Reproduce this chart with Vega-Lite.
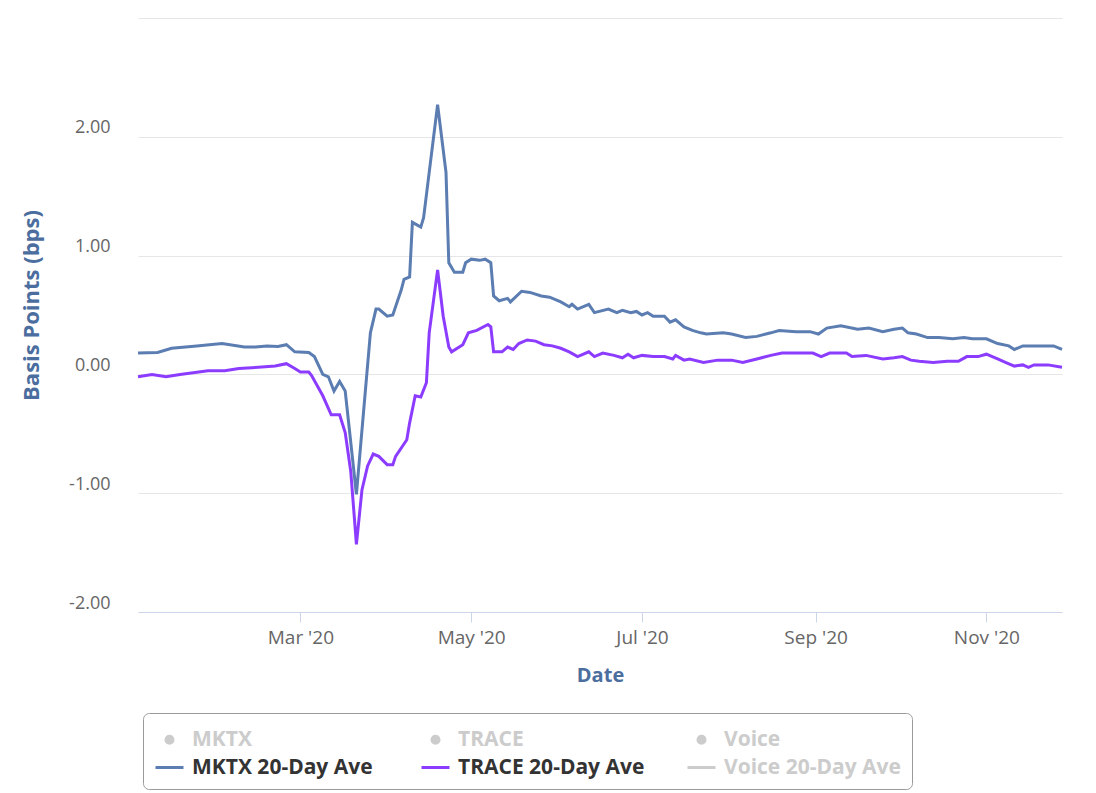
{
  "$schema": "https://vega.github.io/schema/vega-lite/v6.json",
  "width": 924,
  "height": 594,
  "autosize": {"type": "none"},
  "padding": {"left": 138, "top": 18, "right": 34, "bottom": 181},
  "background": "#ffffff",
  "config": {"view": {"stroke": null}, "font": "Open Sans"},
  "data": {"values": [
    {"date": "2020-01-03", "series": "MKTX 20-Day Ave", "value": 0.18},
    {"date": "2020-01-10", "series": "MKTX 20-Day Ave", "value": 0.185},
    {"date": "2020-01-15", "series": "MKTX 20-Day Ave", "value": 0.22},
    {"date": "2020-01-24", "series": "MKTX 20-Day Ave", "value": 0.24},
    {"date": "2020-02-02", "series": "MKTX 20-Day Ave", "value": 0.26},
    {"date": "2020-02-10", "series": "MKTX 20-Day Ave", "value": 0.23},
    {"date": "2020-02-14", "series": "MKTX 20-Day Ave", "value": 0.23},
    {"date": "2020-02-18", "series": "MKTX 20-Day Ave", "value": 0.24},
    {"date": "2020-02-22", "series": "MKTX 20-Day Ave", "value": 0.235},
    {"date": "2020-02-25", "series": "MKTX 20-Day Ave", "value": 0.25},
    {"date": "2020-02-28", "series": "MKTX 20-Day Ave", "value": 0.19},
    {"date": "2020-03-04", "series": "MKTX 20-Day Ave", "value": 0.185},
    {"date": "2020-03-06", "series": "MKTX 20-Day Ave", "value": 0.15},
    {"date": "2020-03-09", "series": "MKTX 20-Day Ave", "value": 0.0},
    {"date": "2020-03-11", "series": "MKTX 20-Day Ave", "value": -0.02},
    {"date": "2020-03-13", "series": "MKTX 20-Day Ave", "value": -0.14},
    {"date": "2020-03-15", "series": "MKTX 20-Day Ave", "value": -0.06},
    {"date": "2020-03-17", "series": "MKTX 20-Day Ave", "value": -0.14},
    {"date": "2020-03-21", "series": "MKTX 20-Day Ave", "value": -1.01},
    {"date": "2020-03-26", "series": "MKTX 20-Day Ave", "value": 0.35},
    {"date": "2020-03-28", "series": "MKTX 20-Day Ave", "value": 0.55},
    {"date": "2020-03-29", "series": "MKTX 20-Day Ave", "value": 0.55},
    {"date": "2020-04-01", "series": "MKTX 20-Day Ave", "value": 0.49},
    {"date": "2020-04-03", "series": "MKTX 20-Day Ave", "value": 0.50},
    {"date": "2020-04-06", "series": "MKTX 20-Day Ave", "value": 0.71},
    {"date": "2020-04-07", "series": "MKTX 20-Day Ave", "value": 0.80},
    {"date": "2020-04-09", "series": "MKTX 20-Day Ave", "value": 0.82},
    {"date": "2020-04-10", "series": "MKTX 20-Day Ave", "value": 1.28},
    {"date": "2020-04-13", "series": "MKTX 20-Day Ave", "value": 1.24},
    {"date": "2020-04-14", "series": "MKTX 20-Day Ave", "value": 1.32},
    {"date": "2020-04-16", "series": "MKTX 20-Day Ave", "value": 1.70},
    {"date": "2020-04-19", "series": "MKTX 20-Day Ave", "value": 2.27},
    {"date": "2020-04-22", "series": "MKTX 20-Day Ave", "value": 1.70},
    {"date": "2020-04-23", "series": "MKTX 20-Day Ave", "value": 0.94},
    {"date": "2020-04-25", "series": "MKTX 20-Day Ave", "value": 0.86},
    {"date": "2020-04-28", "series": "MKTX 20-Day Ave", "value": 0.86},
    {"date": "2020-04-29", "series": "MKTX 20-Day Ave", "value": 0.94},
    {"date": "2020-05-01", "series": "MKTX 20-Day Ave", "value": 0.97},
    {"date": "2020-05-04", "series": "MKTX 20-Day Ave", "value": 0.96},
    {"date": "2020-05-06", "series": "MKTX 20-Day Ave", "value": 0.97},
    {"date": "2020-05-08", "series": "MKTX 20-Day Ave", "value": 0.94},
    {"date": "2020-05-09", "series": "MKTX 20-Day Ave", "value": 0.66},
    {"date": "2020-05-11", "series": "MKTX 20-Day Ave", "value": 0.62},
    {"date": "2020-05-14", "series": "MKTX 20-Day Ave", "value": 0.64},
    {"date": "2020-05-15", "series": "MKTX 20-Day Ave", "value": 0.61},
    {"date": "2020-05-19", "series": "MKTX 20-Day Ave", "value": 0.70},
    {"date": "2020-05-22", "series": "MKTX 20-Day Ave", "value": 0.69},
    {"date": "2020-05-26", "series": "MKTX 20-Day Ave", "value": 0.66},
    {"date": "2020-05-29", "series": "MKTX 20-Day Ave", "value": 0.65},
    {"date": "2020-06-02", "series": "MKTX 20-Day Ave", "value": 0.61},
    {"date": "2020-06-05", "series": "MKTX 20-Day Ave", "value": 0.57},
    {"date": "2020-06-06", "series": "MKTX 20-Day Ave", "value": 0.59},
    {"date": "2020-06-08", "series": "MKTX 20-Day Ave", "value": 0.55},
    {"date": "2020-06-12", "series": "MKTX 20-Day Ave", "value": 0.59},
    {"date": "2020-06-14", "series": "MKTX 20-Day Ave", "value": 0.52},
    {"date": "2020-06-19", "series": "MKTX 20-Day Ave", "value": 0.55},
    {"date": "2020-06-22", "series": "MKTX 20-Day Ave", "value": 0.52},
    {"date": "2020-06-24", "series": "MKTX 20-Day Ave", "value": 0.54},
    {"date": "2020-06-27", "series": "MKTX 20-Day Ave", "value": 0.52},
    {"date": "2020-06-29", "series": "MKTX 20-Day Ave", "value": 0.53},
    {"date": "2020-07-01", "series": "MKTX 20-Day Ave", "value": 0.50},
    {"date": "2020-07-03", "series": "MKTX 20-Day Ave", "value": 0.52},
    {"date": "2020-07-05", "series": "MKTX 20-Day Ave", "value": 0.49},
    {"date": "2020-07-09", "series": "MKTX 20-Day Ave", "value": 0.49},
    {"date": "2020-07-11", "series": "MKTX 20-Day Ave", "value": 0.44},
    {"date": "2020-07-13", "series": "MKTX 20-Day Ave", "value": 0.46},
    {"date": "2020-07-16", "series": "MKTX 20-Day Ave", "value": 0.40},
    {"date": "2020-07-19", "series": "MKTX 20-Day Ave", "value": 0.37},
    {"date": "2020-07-22", "series": "MKTX 20-Day Ave", "value": 0.35},
    {"date": "2020-07-24", "series": "MKTX 20-Day Ave", "value": 0.34},
    {"date": "2020-07-30", "series": "MKTX 20-Day Ave", "value": 0.35},
    {"date": "2020-08-02", "series": "MKTX 20-Day Ave", "value": 0.34},
    {"date": "2020-08-07", "series": "MKTX 20-Day Ave", "value": 0.31},
    {"date": "2020-08-11", "series": "MKTX 20-Day Ave", "value": 0.32},
    {"date": "2020-08-16", "series": "MKTX 20-Day Ave", "value": 0.35},
    {"date": "2020-08-19", "series": "MKTX 20-Day Ave", "value": 0.37},
    {"date": "2020-08-25", "series": "MKTX 20-Day Ave", "value": 0.36},
    {"date": "2020-08-30", "series": "MKTX 20-Day Ave", "value": 0.36},
    {"date": "2020-09-02", "series": "MKTX 20-Day Ave", "value": 0.34},
    {"date": "2020-09-05", "series": "MKTX 20-Day Ave", "value": 0.39},
    {"date": "2020-09-10", "series": "MKTX 20-Day Ave", "value": 0.41},
    {"date": "2020-09-16", "series": "MKTX 20-Day Ave", "value": 0.38},
    {"date": "2020-09-20", "series": "MKTX 20-Day Ave", "value": 0.39},
    {"date": "2020-09-25", "series": "MKTX 20-Day Ave", "value": 0.36},
    {"date": "2020-09-29", "series": "MKTX 20-Day Ave", "value": 0.38},
    {"date": "2020-10-02", "series": "MKTX 20-Day Ave", "value": 0.39},
    {"date": "2020-10-04", "series": "MKTX 20-Day Ave", "value": 0.35},
    {"date": "2020-10-07", "series": "MKTX 20-Day Ave", "value": 0.34},
    {"date": "2020-10-11", "series": "MKTX 20-Day Ave", "value": 0.31},
    {"date": "2020-10-15", "series": "MKTX 20-Day Ave", "value": 0.31},
    {"date": "2020-10-20", "series": "MKTX 20-Day Ave", "value": 0.30},
    {"date": "2020-10-24", "series": "MKTX 20-Day Ave", "value": 0.31},
    {"date": "2020-10-27", "series": "MKTX 20-Day Ave", "value": 0.30},
    {"date": "2020-11-01", "series": "MKTX 20-Day Ave", "value": 0.30},
    {"date": "2020-11-05", "series": "MKTX 20-Day Ave", "value": 0.26},
    {"date": "2020-11-09", "series": "MKTX 20-Day Ave", "value": 0.24},
    {"date": "2020-11-11", "series": "MKTX 20-Day Ave", "value": 0.21},
    {"date": "2020-11-14", "series": "MKTX 20-Day Ave", "value": 0.24},
    {"date": "2020-11-18", "series": "MKTX 20-Day Ave", "value": 0.24},
    {"date": "2020-11-21", "series": "MKTX 20-Day Ave", "value": 0.24},
    {"date": "2020-11-25", "series": "MKTX 20-Day Ave", "value": 0.24},
    {"date": "2020-11-28", "series": "MKTX 20-Day Ave", "value": 0.21},
    {"date": "2020-01-03", "series": "TRACE 20-Day Ave", "value": -0.02},
    {"date": "2020-01-08", "series": "TRACE 20-Day Ave", "value": 0.0},
    {"date": "2020-01-13", "series": "TRACE 20-Day Ave", "value": -0.02},
    {"date": "2020-01-18", "series": "TRACE 20-Day Ave", "value": 0.0},
    {"date": "2020-01-28", "series": "TRACE 20-Day Ave", "value": 0.03},
    {"date": "2020-02-03", "series": "TRACE 20-Day Ave", "value": 0.03},
    {"date": "2020-02-08", "series": "TRACE 20-Day Ave", "value": 0.05},
    {"date": "2020-02-15", "series": "TRACE 20-Day Ave", "value": 0.06},
    {"date": "2020-02-21", "series": "TRACE 20-Day Ave", "value": 0.07},
    {"date": "2020-02-25", "series": "TRACE 20-Day Ave", "value": 0.09},
    {"date": "2020-02-28", "series": "TRACE 20-Day Ave", "value": 0.05},
    {"date": "2020-03-01", "series": "TRACE 20-Day Ave", "value": 0.02},
    {"date": "2020-03-04", "series": "TRACE 20-Day Ave", "value": 0.02},
    {"date": "2020-03-05", "series": "TRACE 20-Day Ave", "value": -0.01},
    {"date": "2020-03-09", "series": "TRACE 20-Day Ave", "value": -0.18},
    {"date": "2020-03-12", "series": "TRACE 20-Day Ave", "value": -0.34},
    {"date": "2020-03-15", "series": "TRACE 20-Day Ave", "value": -0.34},
    {"date": "2020-03-17", "series": "TRACE 20-Day Ave", "value": -0.49},
    {"date": "2020-03-19", "series": "TRACE 20-Day Ave", "value": -0.82},
    {"date": "2020-03-21", "series": "TRACE 20-Day Ave", "value": -1.43},
    {"date": "2020-03-23", "series": "TRACE 20-Day Ave", "value": -0.97},
    {"date": "2020-03-25", "series": "TRACE 20-Day Ave", "value": -0.77},
    {"date": "2020-03-27", "series": "TRACE 20-Day Ave", "value": -0.67},
    {"date": "2020-03-29", "series": "TRACE 20-Day Ave", "value": -0.69},
    {"date": "2020-04-01", "series": "TRACE 20-Day Ave", "value": -0.76},
    {"date": "2020-04-03", "series": "TRACE 20-Day Ave", "value": -0.76},
    {"date": "2020-04-04", "series": "TRACE 20-Day Ave", "value": -0.69},
    {"date": "2020-04-08", "series": "TRACE 20-Day Ave", "value": -0.55},
    {"date": "2020-04-09", "series": "TRACE 20-Day Ave", "value": -0.41},
    {"date": "2020-04-11", "series": "TRACE 20-Day Ave", "value": -0.18},
    {"date": "2020-04-13", "series": "TRACE 20-Day Ave", "value": -0.19},
    {"date": "2020-04-15", "series": "TRACE 20-Day Ave", "value": -0.07},
    {"date": "2020-04-16", "series": "TRACE 20-Day Ave", "value": 0.35},
    {"date": "2020-04-19", "series": "TRACE 20-Day Ave", "value": 0.88},
    {"date": "2020-04-21", "series": "TRACE 20-Day Ave", "value": 0.49},
    {"date": "2020-04-23", "series": "TRACE 20-Day Ave", "value": 0.23},
    {"date": "2020-04-24", "series": "TRACE 20-Day Ave", "value": 0.19},
    {"date": "2020-04-28", "series": "TRACE 20-Day Ave", "value": 0.25},
    {"date": "2020-04-30", "series": "TRACE 20-Day Ave", "value": 0.35},
    {"date": "2020-05-03", "series": "TRACE 20-Day Ave", "value": 0.37},
    {"date": "2020-05-07", "series": "TRACE 20-Day Ave", "value": 0.42},
    {"date": "2020-05-08", "series": "TRACE 20-Day Ave", "value": 0.40},
    {"date": "2020-05-09", "series": "TRACE 20-Day Ave", "value": 0.19},
    {"date": "2020-05-12", "series": "TRACE 20-Day Ave", "value": 0.19},
    {"date": "2020-05-14", "series": "TRACE 20-Day Ave", "value": 0.23},
    {"date": "2020-05-16", "series": "TRACE 20-Day Ave", "value": 0.21},
    {"date": "2020-05-18", "series": "TRACE 20-Day Ave", "value": 0.26},
    {"date": "2020-05-21", "series": "TRACE 20-Day Ave", "value": 0.29},
    {"date": "2020-05-24", "series": "TRACE 20-Day Ave", "value": 0.28},
    {"date": "2020-05-27", "series": "TRACE 20-Day Ave", "value": 0.25},
    {"date": "2020-05-30", "series": "TRACE 20-Day Ave", "value": 0.24},
    {"date": "2020-06-02", "series": "TRACE 20-Day Ave", "value": 0.22},
    {"date": "2020-06-05", "series": "TRACE 20-Day Ave", "value": 0.19},
    {"date": "2020-06-08", "series": "TRACE 20-Day Ave", "value": 0.15},
    {"date": "2020-06-12", "series": "TRACE 20-Day Ave", "value": 0.19},
    {"date": "2020-06-14", "series": "TRACE 20-Day Ave", "value": 0.15},
    {"date": "2020-06-17", "series": "TRACE 20-Day Ave", "value": 0.18},
    {"date": "2020-06-21", "series": "TRACE 20-Day Ave", "value": 0.16},
    {"date": "2020-06-24", "series": "TRACE 20-Day Ave", "value": 0.14},
    {"date": "2020-06-26", "series": "TRACE 20-Day Ave", "value": 0.17},
    {"date": "2020-06-28", "series": "TRACE 20-Day Ave", "value": 0.14},
    {"date": "2020-07-01", "series": "TRACE 20-Day Ave", "value": 0.16},
    {"date": "2020-07-05", "series": "TRACE 20-Day Ave", "value": 0.15},
    {"date": "2020-07-09", "series": "TRACE 20-Day Ave", "value": 0.15},
    {"date": "2020-07-12", "series": "TRACE 20-Day Ave", "value": 0.13},
    {"date": "2020-07-13", "series": "TRACE 20-Day Ave", "value": 0.16},
    {"date": "2020-07-16", "series": "TRACE 20-Day Ave", "value": 0.12},
    {"date": "2020-07-18", "series": "TRACE 20-Day Ave", "value": 0.13},
    {"date": "2020-07-23", "series": "TRACE 20-Day Ave", "value": 0.10},
    {"date": "2020-07-28", "series": "TRACE 20-Day Ave", "value": 0.12},
    {"date": "2020-08-02", "series": "TRACE 20-Day Ave", "value": 0.12},
    {"date": "2020-08-06", "series": "TRACE 20-Day Ave", "value": 0.10},
    {"date": "2020-08-11", "series": "TRACE 20-Day Ave", "value": 0.13},
    {"date": "2020-08-16", "series": "TRACE 20-Day Ave", "value": 0.16},
    {"date": "2020-08-20", "series": "TRACE 20-Day Ave", "value": 0.18},
    {"date": "2020-08-26", "series": "TRACE 20-Day Ave", "value": 0.18},
    {"date": "2020-08-31", "series": "TRACE 20-Day Ave", "value": 0.18},
    {"date": "2020-09-03", "series": "TRACE 20-Day Ave", "value": 0.15},
    {"date": "2020-09-06", "series": "TRACE 20-Day Ave", "value": 0.18},
    {"date": "2020-09-12", "series": "TRACE 20-Day Ave", "value": 0.18},
    {"date": "2020-09-14", "series": "TRACE 20-Day Ave", "value": 0.15},
    {"date": "2020-09-19", "series": "TRACE 20-Day Ave", "value": 0.16},
    {"date": "2020-09-25", "series": "TRACE 20-Day Ave", "value": 0.13},
    {"date": "2020-09-29", "series": "TRACE 20-Day Ave", "value": 0.14},
    {"date": "2020-10-02", "series": "TRACE 20-Day Ave", "value": 0.15},
    {"date": "2020-10-05", "series": "TRACE 20-Day Ave", "value": 0.12},
    {"date": "2020-10-08", "series": "TRACE 20-Day Ave", "value": 0.11},
    {"date": "2020-10-13", "series": "TRACE 20-Day Ave", "value": 0.10},
    {"date": "2020-10-18", "series": "TRACE 20-Day Ave", "value": 0.11},
    {"date": "2020-10-22", "series": "TRACE 20-Day Ave", "value": 0.11},
    {"date": "2020-10-25", "series": "TRACE 20-Day Ave", "value": 0.15},
    {"date": "2020-10-29", "series": "TRACE 20-Day Ave", "value": 0.15},
    {"date": "2020-11-01", "series": "TRACE 20-Day Ave", "value": 0.17},
    {"date": "2020-11-05", "series": "TRACE 20-Day Ave", "value": 0.13},
    {"date": "2020-11-08", "series": "TRACE 20-Day Ave", "value": 0.10},
    {"date": "2020-11-11", "series": "TRACE 20-Day Ave", "value": 0.07},
    {"date": "2020-11-14", "series": "TRACE 20-Day Ave", "value": 0.08},
    {"date": "2020-11-16", "series": "TRACE 20-Day Ave", "value": 0.06},
    {"date": "2020-11-18", "series": "TRACE 20-Day Ave", "value": 0.08},
    {"date": "2020-11-23", "series": "TRACE 20-Day Ave", "value": 0.08},
    {"date": "2020-11-28", "series": "TRACE 20-Day Ave", "value": 0.06}
  ]},
  "mark": {"type": "line", "strokeWidth": 3, "interpolate": "linear"},
  "encoding": {
    "x": {
      "field": "date",
      "type": "temporal",
      "scale": {"type": "utc", "domain": [
        {"year": 2020, "month": 1, "date": 3, "utc": true},
        {"year": 2020, "month": 11, "date": 28, "utc": true}
      ]},
      "axis": {
        "values": [
          {"year": 2020, "month": 3, "date": 1, "utc": true},
          {"year": 2020, "month": 5, "date": 1, "utc": true},
          {"year": 2020, "month": 7, "date": 1, "utc": true},
          {"year": 2020, "month": 9, "date": 1, "utc": true},
          {"year": 2020, "month": 11, "date": 1, "utc": true}
        ],
        "labelExpr": "utcFormat(datum.value, \"%b '%y\")",
        "grid": false,
        "domainColor": "#ccd6eb",
        "domainWidth": 1,
        "tickColor": "#ccd6eb",
        "tickSize": 10,
        "tickWidth": 1,
        "labelColor": "#666666",
        "labelFontSize": 19,
        "labelPadding": 6,
        "labelFlush": false,
        "title": "Date",
        "titleColor": "#4b6e9e",
        "titleFontSize": 20,
        "titleFontWeight": "bold",
        "titleY": 63,
        "titleBaseline": "middle"
      }
    },
    "y": {
      "field": "value",
      "type": "quantitative",
      "scale": {"domain": [-2, 3], "nice": false, "zero": false},
      "axis": {
        "values": [-2, -1, 0, 1, 2, 3],
        "labelExpr": "datum.value >= 3 ? '' : replace(format(datum.value, '.2f'), '\u2212', '-')",
        "grid": true,
        "gridColor": "#e6e6e6",
        "gridWidth": 1,
        "domain": false,
        "ticks": false,
        "labelColor": "#666666",
        "labelFontSize": 18,
        "labelPadding": 28,
        "labelBaseline": "middle",
        "labelOffset": -9,
        "title": "Basis Points (bps)",
        "titleColor": "#4b6e9e",
        "titleFontSize": 22,
        "titleFontWeight": "bold",
        "titleAngle": -90,
        "titleX": -95,
        "titleY": 287,
        "titleAlign": "center",
        "titleBaseline": "bottom"
      }
    },
    "color": {
      "field": "series",
      "type": "nominal",
      "scale": {
        "domain": ["MKTX", "TRACE", "Voice", "MKTX 20-Day Ave", "TRACE 20-Day Ave", "Voice 20-Day Ave"],
        "range": ["#cccccc", "#cccccc", "#cccccc", "#5b7db1", "#8c3cff", "#cccccc"]
      },
      "legend": {
        "title": null,
        "orient": "none",
        "direction": "horizontal",
        "legendX": 5,
        "legendY": 695,
        "columns": 3,
        "gridAlign": "all",
        "columnPadding": 36,
        "rowPadding": 2,
        "padding": 11,
        "fillColor": "#ffffff",
        "strokeColor": "#999999",
        "cornerRadius": 6,
        "labelFontSize": 21,
        "labelFontWeight": "bold",
        "labelColor": "#333333",
        "labelOffset": 7,
        "labelLimit": 400,
        "symbolSize": 784,
        "symbolStrokeWidth": 3,
        "encode": {
          "symbols": {"update": {
            "shape": {"signal": "indexof(['MKTX','TRACE','Voice'], datum.value) >= 0 ? 'circle' : 'stroke'"},
            "size": {"signal": "indexof(['MKTX','TRACE','Voice'], datum.value) >= 0 ? 50 : 784"},
            "fill": {"signal": "indexof(['MKTX','TRACE','Voice'], datum.value) >= 0 ? '#cccccc' : 'transparent'"}
          }},
          "labels": {"update": {
            "fill": {"signal": "datum.value == 'MKTX 20-Day Ave' || datum.value == 'TRACE 20-Day Ave' ? '#333333' : '#cccccc'"}
          }}
        }
      }
    }
  }
}
